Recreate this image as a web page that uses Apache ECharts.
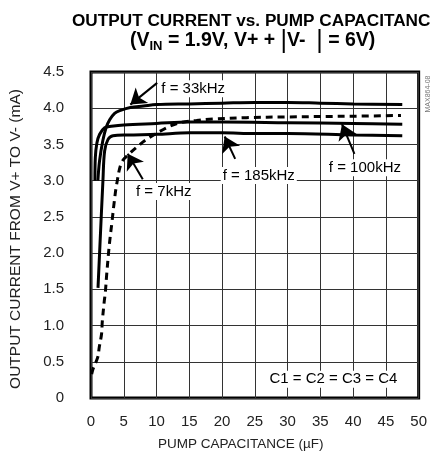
<!DOCTYPE html>
<html>
<head>
<meta charset="utf-8">
<script src="https://cdn.jsdelivr.net/npm/echarts@6/dist/echarts.min.js"></script>
<style>
  html, body { margin: 0; padding: 0; background: #fff; }
  #chart { width: 430px; height: 456px; }
</style>
</head>
<body>
<div id="chart"></div>
<script>
// tick labels
const xTickLabels = ['0', '5', '10', '15', '20', '25', '30', '35', '40', '45', '50'];
const yTickLabels = ['0', '0.5', '1.0', '1.5', '2.0', '2.5', '3.0', '3.5', '4.0', '4.5'];

// f = 7kHz (dashed)
const cap7k = [0.1, 0.35, 1.02, 1.26, 1.62, 1.72, 2.03, 2.18, 2.39, 2.79, 3.2, 3.55, 3.92, 4.67, 5.95, 7.2, 8.5, 10.5, 12.0, 13.6, 16.1, 18.6, 23.7, 30, 40, 47.3];
const cur7k = [0.33, 0.41, 0.56, 0.70, 0.89, 1.05, 1.34, 1.45, 1.70, 2.11, 2.43, 2.71, 2.95, 3.25, 3.38, 3.48, 3.57, 3.68, 3.75, 3.80, 3.83, 3.85, 3.87, 3.88, 3.89, 3.90];

// f = 33kHz
const cap33k = [1.05, 1.3, 1.8, 2.3, 2.85, 3.6, 4.5, 6, 8, 10, 15, 20, 25, 30, 35, 40, 47.5];
const cur33k = [3.0, 3.27, 3.55, 3.73, 3.84, 3.93, 3.97, 4.01, 4.03, 4.05, 4.06, 4.07, 4.08, 4.08, 4.07, 4.06, 4.05];

// f = 100kHz
const cap100k = [0.6, 0.66, 0.9, 1.32, 2.08, 3.1, 5, 10, 15, 20, 30, 40, 47.5];
const cur100k = [3.0, 3.32, 3.52, 3.64, 3.73, 3.75, 3.77, 3.79, 3.81, 3.81, 3.80, 3.79, 3.78];

// f = 185kHz
const cap185k = [1.07, 1.83, 2.08, 2.6, 3.35, 5.6, 10, 15, 20, 25, 30, 40, 47.5];
const cur185k = [1.52, 3.02, 3.41, 3.57, 3.62, 3.63, 3.64, 3.66, 3.66, 3.65, 3.65, 3.63, 3.62];

// annotations: text, label centre, arrow tail, arrow tip (data coords)
const notes = [
  { text: 'f = 33kHz', at: [15.6, 4.27], tail: [10.1, 4.35], tip: [6.0, 4.05] },
  { text: 'f = 7kHz', at: [11.1, 2.85], tail: [7.9, 3.02], tip: [5.6, 3.37] },
  { text: 'f = 185kHz', at: [25.6, 3.07], tail: [22.0, 3.30], tip: [20.4, 3.61] },
  { text: 'f = 100kHz', at: [41.8, 3.18], tail: [40.2, 3.37], tip: [38.3, 3.78] },
  { text: 'C1 = C2 = C3 = C4', at: [37.0, 0.26] },
];

const FONT = '"Liberation Sans", Arial, sans-serif';
const toPairs = (xs, ys) => xs.map((x, i) => [x, ys[i]]);

const chart = echarts.init(document.getElementById('chart'));

const curve = (name, xs, ys, dashed) => ({
  name,
  type: 'line',
  data: toPairs(xs, ys),
  smooth: 0.35,
  showSymbol: false,
  symbol: 'none',
  silent: true,
  lineStyle: { color: '#000', width: 3, type: dashed ? [7, 5] : 'solid' },
  z: 3,
});

const notesSeries = curve('185kHz', cap185k, cur185k, false);
notesSeries.markPoint = {
  symbol: 'circle',
  symbolSize: 1,
  itemStyle: { color: 'rgba(0,0,0,0)' },
  silent: true,
  label: {
    show: true,
    position: 'inside',
    formatter: '{b}',
    color: '#000',
    fontFamily: FONT,
    fontSize: 15,
    backgroundColor: '#fff',
    padding: [1, 2],
  },
  data: notes.map((n) => ({ name: n.text, coord: n.at })),
};
notesSeries.markLine = {
  silent: true,
  symbol: ['none', 'arrow'],
  symbolSize: 15,
  label: { show: false },
  lineStyle: { color: '#000', width: 2, type: 'solid' },
  itemStyle: { color: '#000' },
  data: notes.filter((n) => n.tip).map((n) => [{ coord: n.tail }, { coord: n.tip }]),
};

const option = {
  animation: false,
  backgroundColor: '#fff',
  title: [
    {
      text: 'OUTPUT CURRENT vs. PUMP CAPACITANCE',
      left: 67,
      top: 8,
      textStyle: { fontFamily: FONT, fontSize: 17.2, fontWeight: 'bold', color: '#000' },
    },
    {
      text: '(V{sub|IN} = 1.9V, V+ + {bar||}V-  {bar||} = 6V)',
      left: 125,
      top: 24,
      textStyle: {
        fontFamily: FONT,
        fontSize: 19.5,
        fontWeight: 'bold',
        color: '#000',
        lineHeight: 24,
        rich: {
          sub: { fontFamily: FONT, fontSize: 13, fontWeight: 'bold', verticalAlign: 'bottom', lineHeight: 22 },
          bar: { fontFamily: FONT, fontSize: 25, fontWeight: 'normal', lineHeight: 24 },
        },
      },
    },
  ],
  graphic: [
    {
      type: 'text',
      x: 428,
      y: 94,
      rotation: Math.PI / 2,
      style: {
        text: 'MAX864-08',
        fontFamily: FONT,
        fontSize: 7,
        fill: '#777',
        align: 'center',
        verticalAlign: 'middle',
      },
    },
  ],
  grid: {
    left: 91,
    right: 11,
    top: 72,
    bottom: 55,
    show: true,
    borderColor: '#000',
    borderWidth: 3,
    backgroundColor: '#fff',
  },
  xAxis: {
    type: 'value',
    min: 0,
    max: 50,
    interval: 5,
    name: 'PUMP CAPACITANCE (µF)',
    nameLocation: 'middle',
    nameGap: 39,
    nameTextStyle: { fontFamily: FONT, fontSize: 13.5, color: '#222', padding: [0, 28, 0, 0] },
    axisLine: { show: false },
    axisTick: { show: false },
    axisLabel: {
      margin: 16,
      fontFamily: FONT,
      fontSize: 15,
      color: '#222',
      formatter: (v) => xTickLabels[Math.round(v / 5)],
    },
    splitLine: { show: true, lineStyle: { color: '#333', width: 1 } },
  },
  yAxis: {
    type: 'value',
    min: 0,
    max: 4.5,
    interval: 0.5,
    name: 'OUTPUT CURRENT FROM V+ TO V- (mA)',
    nameLocation: 'middle',
    nameGap: 67,
    nameTextStyle: { fontFamily: FONT, fontSize: 15.5, color: '#222', padding: [0, 8, 0, 0] },
    axisLine: { show: false },
    axisTick: { show: false },
    axisLabel: {
      margin: 27,
      fontFamily: FONT,
      fontSize: 15,
      color: '#222',
      formatter: (v) => yTickLabels[Math.round(v / 0.5)],
    },
    splitLine: { show: true, lineStyle: { color: '#333', width: 1 } },
  },
  series: [
    curve('7kHz', cap7k, cur7k, true),
    curve('33kHz', cap33k, cur33k, false),
    curve('100kHz', cap100k, cur100k, false),
    notesSeries,
  ],
};

chart.setOption(option);
</script>
</body>
</html>
